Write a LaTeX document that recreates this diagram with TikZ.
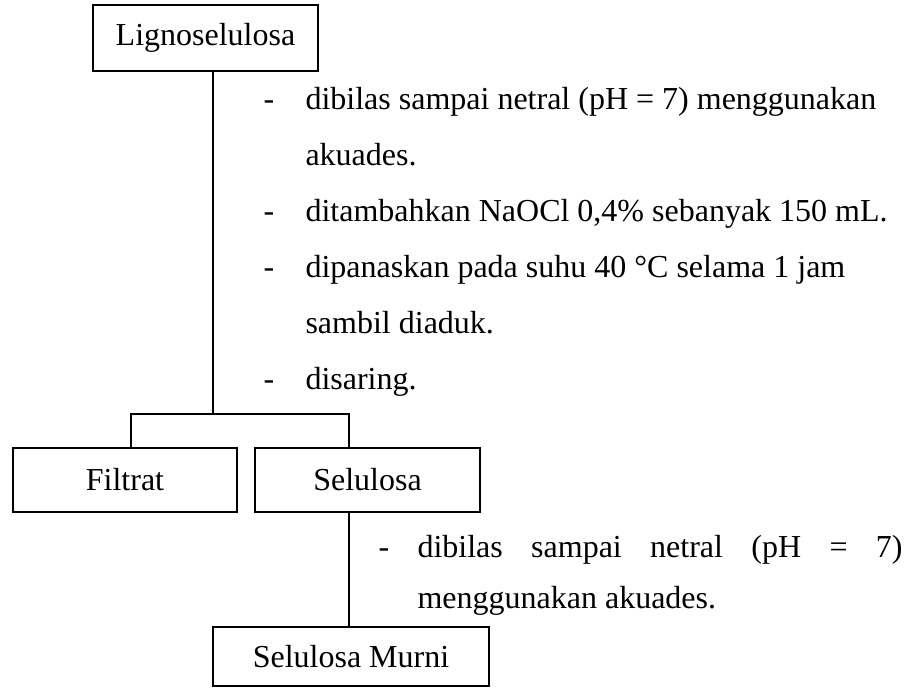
\documentclass[tikz,border=0pt]{standalone}
\usepackage{fontspec}
\setmainfont{Liberation Serif}
\begin{document}
\begin{tikzpicture}[x=0.375pt,y=-0.375pt,
  font=\fontsize{12pt}{14pt}\selectfont,
  stepbox/.style={draw,line width=0.8pt,inner sep=0pt,anchor=center},
  link/.style={draw,line width=0.8pt},
  note/.style={anchor=base west,inner sep=0pt}]
\useasboundingbox (0,0) rectangle (916,688);

% boxes
\node[stepbox,minimum width=225*0.375pt,minimum height=66*0.375pt] (ligno) at (205.5,38) {Lignoselulosa};
\node[stepbox,minimum width=224*0.375pt,minimum height=64*0.375pt] (filtrat) at (125,480) {Filtrat};
\node[stepbox,minimum width=225*0.375pt,minimum height=64*0.375pt] (selulosa) at (367.5,480) {Selulosa};
\node[stepbox,minimum width=276*0.375pt,minimum height=59*0.375pt] (murni) at (351,656.5) {Selulosa Murni};

% first treatment steps
\node[note] (d1) at (263,109) {-};
\node[note] (t1) at (305,109) {dibilas sampai netral (pH = 7) menggunakan};
\node[note] (t1b) at (305,165) {akuades.};
\node[note] (d2) at (263,221) {-};
\node[note] (t2) at (305,221) {ditambahkan NaOCl 0,4\% sebanyak 150 mL.};
\node[note] (d3) at (263,277) {-};
\node[note] (t3) at (305,277) {dipanaskan pada suhu 40 °C selama 1 jam};
\node[note] (t3b) at (305,333) {sambil diaduk.};
\node[note] (d4) at (263,389) {-};
\node[note] (t4) at (305,389) {disaring.};

% second treatment step
\node[note] (d5) at (378,557) {-};
\node[note] (t5) at (417,557) {\makebox[181.9pt][s]{dibilas sampai netral (pH = 7)}};
\node[note] (t5b) at (417,608) {menggunakan akuades.};

% connectors
\coordinate (hub) at (213,414);
\coordinate (jl) at (131,414);
\coordinate (jr) at (349,414);
\draw[link] (hub |- ligno.south) -- (hub);
\draw[link] (jl |- filtrat.north) -- (jl) -- (jr) -- (jr |- selulosa.north);
\draw[link] (selulosa.south -| jr) -- (jr |- murni.north);
\end{tikzpicture}
\end{document}
